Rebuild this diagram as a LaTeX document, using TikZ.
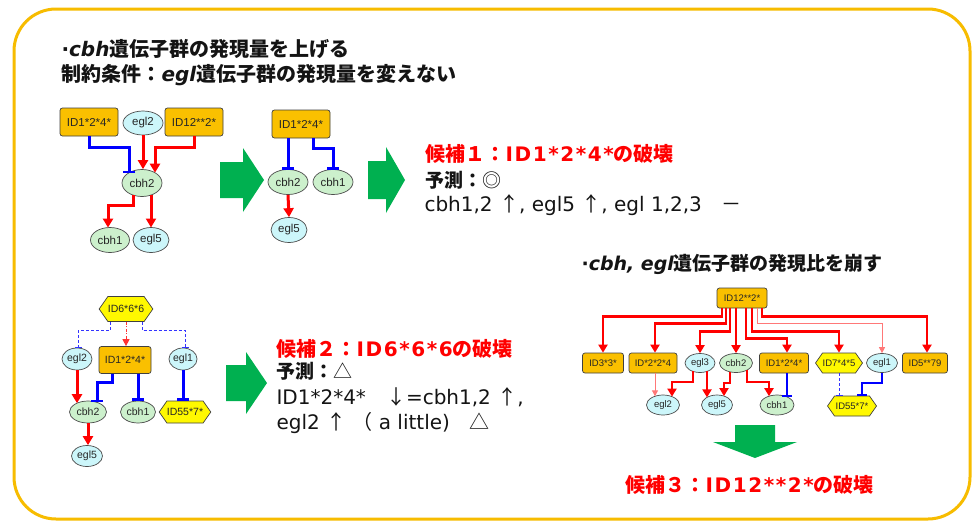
\documentclass[tikz,border=0pt]{standalone}
\usepackage{fontspec}
\setmainfont{DejaVu Sans}[ItalicFont={DejaVu Sans Oblique},BoldItalicFont={DejaVu Sans Bold Oblique}]
\newfontfamily\jp{Noto Sans CJK JP}
\newfontfamily\nd{Liberation Sans}
\newcommand\lsp{\addfontfeature{LetterSpace=8}}
\usetikzlibrary{arrows.meta,shapes.geometric,shapes.symbols,calc}
\definecolor{gold}{RGB}{250,192,0}
\definecolor{lgreen}{RGB}{204,240,204}
\definecolor{lcyan}{RGB}{204,246,250}
\definecolor{hyel}{RGB}{255,248,0}
\definecolor{lred}{RGB}{255,120,120}
\definecolor{garrc}{RGB}{0,176,80}
\definecolor{framec}{RGB}{247,188,0}
\definecolor{txt}{RGB}{20,20,20}
\definecolor{rred}{RGB}{255,0,0}
\definecolor{bblue}{RGB}{0,0,255}
\begin{document}
\begin{tikzpicture}[x=1pt,y=-1pt,
  ob/.style={rectangle, rounded corners=2.5pt, draw=black!75, line width=0.7pt, fill=gold, inner sep=0pt, text=black!85},
  ge/.style={ellipse, draw=black!70, line width=0.7pt, fill=lgreen, inner sep=0pt, text=black!85},
  ce/.style={ellipse, draw=black!70, line width=0.7pt, fill=lcyan, inner sep=0pt, text=black!85},
  hx/.style={signal, signal to=east and west, signal pointer angle=110, draw=black!75, line width=0.7pt, fill=hyel, inner sep=0pt, text=black!85},
  sz/.style 2 args={minimum width=#1, minimum height=#2},
  f1/.style={font=\nd\fontsize{11.5}{13}\selectfont},
  f2/.style={font=\nd\fontsize{10.5}{12}\selectfont},
  f3/.style={font=\nd\fontsize{9.5}{11}\selectfont},
  ra/.style={draw=rred, line width=3pt, -{Triangle[length=9pt,width=10pt]}},
  bi/.style={draw=bblue, line width=3pt, -{Bar[width=12pt,line width=2.2pt]}},
  ra3/.style={draw=rred, line width=2.4pt, -{Triangle[length=8pt,width=9pt]}},
  bi3/.style={draw=bblue, line width=2.4pt, -{Bar[width=10pt,line width=1.8pt]}},
  tr/.style={draw=lred, line width=1pt, -{Triangle[length=6pt,width=6pt]}},
  db/.style={draw=bblue!80, line width=0.9pt, dash pattern=on 3pt off 2pt, -{Bar[width=7pt,line width=0.9pt]}},
  dr/.style={draw=rred!80, line width=0.9pt, dash pattern=on 3pt off 1.5pt on 1pt off 1.5pt, -{Triangle[length=7pt,width=7pt]}},
  garr/.style={fill=garrc},
  tx/.style={anchor=base west, text=txt},
  big/.style={font=\fontsize{20}{24}\selectfont}
]
\useasboundingbox (0,0) rectangle (974,525);
\fill[white] (0,0) rectangle (974,525);
\draw[framec, line width=3pt, rounded corners=42pt] (14,9) rectangle (970,519);

% titles
\node[tx,big] (t1) at (58,56) {{\bfseries ·}{\bfseries\itshape cbh}{\jp\bfseries 遺伝子群の発現量を上げる}};
\node[tx,big] (t2) at (58,81) {{\jp\bfseries 制約条件：}{\bfseries\itshape egl}{\jp\bfseries 遺伝子群の発現量を変えない}};

% ---------- panel 1
\node[ob,sz={58}{28},f1] (a1) at (89,122) {ID1*2*4*};
\node[ce,sz={40}{24},f1] (e2a) at (143,123) {egl2};
\node[ob,sz={58}{28},f1] (a12) at (194,122) {ID12**2*};
\node[ge,sz={40}{27},f1] (c2a) at (142,183) {cbh2};
\node[ge,sz={39}{25},f1] (c1a) at (110,240) {cbh1};
\node[ce,sz={36}{25},f1] (e5a) at (151,240) {egl5};
\draw[bi] (a1.south) -- ++(0,11) -| ($(c2a.center)+(-13,-10.3)$);
\draw[ra] (e2a.south) -- (e2a.south |- c2a.north);
\draw[ra] (a12.south) -- ++(0,11) -| ($(c2a.center)+(13,-10.3)$);
\draw[ra] ($(c2a.center)+(-9,12)$) -- ++(0,10) -| ($(c1a.center)+(-2,-12.4)$);
\draw[ra] ($(c2a.center)+(9,12)$) -- ($(e5a.center)+(0,-12.5)$);

\fill[garr] (220,162) -- (243,162) -- (243,148) -- (264,180) -- (243,212) -- (243,198) -- (220,198) -- cycle;

% panel 1 result
\node[ob,sz={58}{28},f1] (a1r) at (301,124) {ID1*2*4*};
\node[ge,sz={40}{25},f1] (c2r) at (288,182) {cbh2};
\node[ge,sz={40}{25},f1] (c1r) at (333,182) {cbh1};
\node[ce,sz={36}{25},f1] (e5r) at (289,230) {egl5};
\draw[bi] ($(a1r.south)+(-13,0)$) -- ($(c2r.center)+(0,-12.5)$);
\draw[bi] ($(a1r.south)+(12,0)$) -- ++(0,10) -| ($(c1r.center)+(0,-12.5)$);
\draw[ra] (c2r.south) -- (e5r.north);

\fill[garr] (368,161) -- (386,161) -- (386,147) -- (405,180) -- (386,213) -- (386,199) -- (368,199) -- cycle;

\node[tx,big,text=rred] (h1) at (422,161) {\bfseries{\jp 候補１：}{\lsp ID1*2*4*}{\jp の破壊}};
\node[tx,font=\fontsize{19}{24}\selectfont] (p1) at (422,187) {{\jp\bfseries 予測：}{\jp ◎}};
\node[tx,big] (r1) at (421,211) {cbh1,2 {\jp ↑}, egl5 {\jp ↑}, egl 1,2,3{\jp 　－}};

% ---------- panel 2
\node[hx,sz={48}{25},f2] (h6) at (126,309) {ID6*6*6};
\node[ce,sz={30}{22},f2] (e2b) at (77,359) {egl2};
\node[ob,sz={52}{27},f2] (a1b) at (125,360) {ID1*2*4*};
\node[ce,sz={28}{22},f2] (e1b) at (183,359) {egl1};
\node[ge,sz={37}{22},f2] (c2b) at (88,412) {cbh2};
\node[ge,sz={35}{22},f2] (c1b) at (138,412) {cbh1};
\node[hx,sz={50}{22},f2] (h55b) at (185,412) {ID55*7*};
\node[ce,sz={31}{21},f2] (e5b) at (87,456) {egl5};
\draw[db] ($(h6.south)+(-16,0)$) -- ++(0,8.5) -| ($(e2b.north)+(1,0)$);
\draw[dr] (h6.south) -- (h6.south |- a1b.north);
\draw[db] ($(h6.south)+(16,0)$) -- ++(0,8.5) -| ($(e1b.north)+(2,0)$);
\draw[ra] (e2b.south) -- ($(c2b.center)+(-11,-8.8)$);
\draw[bi] ($(a1b.south)+(-13,0)$) -- ++(0,8.5) -| ($(c2b.center)+(9,-9.6)$);
\draw[bi] ($(a1b.south)+(13,0)$) -- (c1b.north);
\draw[bi] (e1b.south) -- (e1b.south |- h55b.north);
\draw[ra] (c2b.south) -- (c2b.south |- e5b.north);

\fill[garr] (226,365) -- (246,365) -- (246,352) -- (267,383) -- (246,414) -- (246,401) -- (226,401) -- cycle;

\node[tx,big,text=rred] (h2) at (273,356) {\bfseries{\jp 候補２：}{\lsp ID6*6*6}{\jp の破壊}};
\node[tx,font=\fontsize{19}{24}\selectfont] (p2) at (273,378) {{\jp\bfseries 予測：}{\jp △}};
\node[tx,big] (l3) at (273,404) {ID1*2*4*{\jp 　↓}=cbh1,2 {\jp ↑},};
\node[tx,big] (l4) at (273,429) {egl2 {\jp ↑} {\jp （} a little){\jp 　△}};

% ---------- panel 3
\node[tx,font=\fontsize{19}{24}\selectfont] (t3) at (578,270) {{\bfseries ·}{\bfseries\itshape cbh, egl}{\jp\bfseries 遺伝子群の発現比を崩す}};

\node[ob,sz={50}{20},f3] (r12) at (742,298) {ID12**2*};
\node[ob,sz={41}{20},f3] (r3) at (603,363) {ID3*3*};
\node[ob,sz={48}{20},f3] (r224) at (653,363) {ID*2*2*4};
\node[ce,sz={30}{19},f3] (e3) at (700,363) {egl3};
\node[ge,sz={33}{19},f3] (c2c) at (736,363) {cbh2};
\node[ob,sz={49}{20},f3] (a1c) at (784,363) {ID1*2*4*};
\node[hx,sz={47}{20},f3] (h745) at (839,363) {ID7*4*5};
\node[ce,sz={31}{19},f3] (e1c) at (882,363) {egl1};
\node[ob,sz={45}{20},f3] (r579) at (925,363) {ID5**79};
\node[ce,sz={33}{20},f3] (e2c) at (663,405) {egl2};
\node[ce,sz={31}{20},f3] (e5c) at (717,405) {egl5};
\node[ge,sz={34}{20},f3] (c1c) at (777,405) {cbh1};
\node[hx,sz={49}{20},f3] (h55c) at (852,406) {ID55*7*};

\draw[ra3] ($(r12.south)+(-20,0)$) -- ++(0,8) -| (r3.north);
\draw[ra3] ($(r12.south)+(-16,0)$) -- ++(0,15) -| ($(r224.north)+(2,0)$);
\draw[ra3] ($(r12.south)+(-12,0)$) -- ++(0,23) -| (e3.north);
\draw[ra3] ($(r12.south)+(-6,0)$) -- (c2c.north);
\draw[ra3] ($(r12.south)+(4,0)$) -- ++(0,30) -| ($(a1c.north)+(3,0)$);
\draw[ra3] ($(r12.south)+(10,0)$) -- ++(0,23) -| (h745.north);
\draw[tr] ($(r12.south)+(15,0)$) -- ++(0,15) -| (e1c.north);
\draw[ra3] ($(r12.south)+(20,0)$) -- ++(0,8) -| ($(r579.north)+(2,0)$);

\draw[tr] ($(r224.south)+(2,0)$) -- ($(e2c.center)+(-8,-8.7)$);
\draw[ra3] ($(e3.center)+(-7,8.4)$) -- ++(0,10.6) -| ($(e2c.center)+(9,-8.4)$);
\draw[ra3] ($(e3.center)+(7,8.4)$) -- ($(e5c.center)+(-10,-7.6)$);
\draw[ra3] ($(c2c.center)+(-6,8.85)$) -- ++(0,11) -| ($(e5c.center)+(7,-8.9)$);
\draw[ra3] ($(c2c.center)+(11,7.1)$) -- ++(0,12) -| ($(c1c.center)+(-8,-8.8)$);
\draw[bi3] ($(a1c.south)+(3,0)$) -- ($(c1c.center)+(10,-8.1)$);
\draw[db] (h745.south) -- (h745.south |- h55c.north);
\draw[bi3] (e1c.south) -- ++(0,10) -| ($(h55c.north)+(10,0)$);

\fill[garr] (735,425) -- (775,425) -- (775,442) -- (797,442) -- (755,458) -- (713,442) -- (735,442) -- cycle;

\node[tx,big,text=rred] (h3) at (622,492) {\bfseries{\jp 候補３：}{\lsp ID12**2*}{\jp の破壊}};
\end{tikzpicture}
\end{document}
